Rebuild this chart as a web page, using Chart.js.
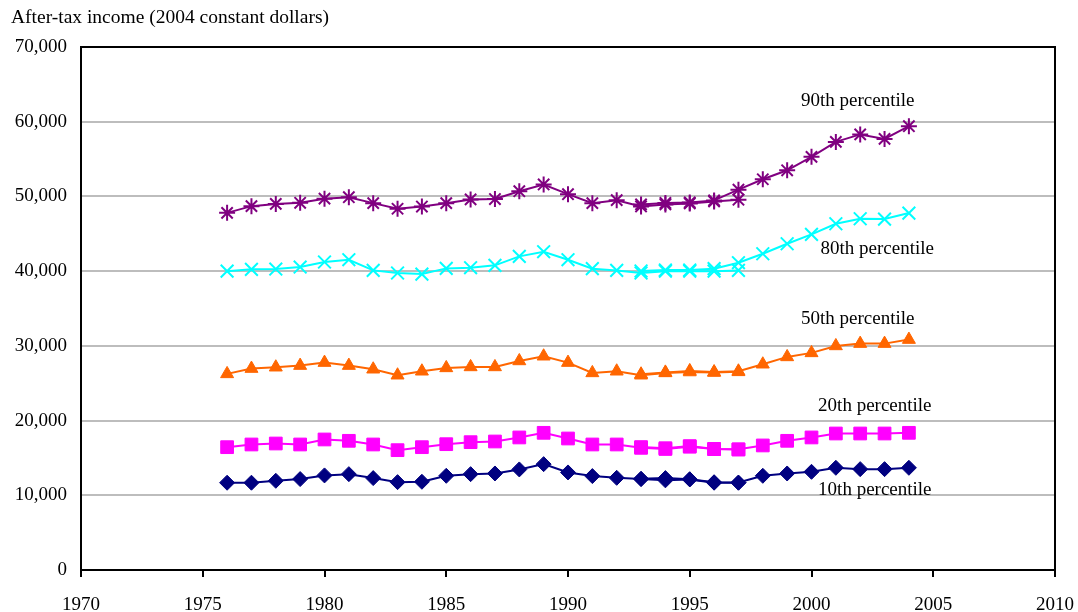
<!DOCTYPE html>
<html>
<head>
<meta charset="utf-8">
<script src="https://cdn.jsdelivr.net/npm/chart.js@4/dist/chart.umd.min.js"></script>
<style>
  html, body { margin: 0; padding: 0; background: #fff; }
  #wrap { width: 1078px; height: 612px; }
</style>
</head>
<body>
<div id="wrap"><canvas id="c" width="1078" height="612"></canvas></div>
<script>
// ---- Data ----
const titleText = "After-tax income (2004 constant dollars)";
const yearsEarly = [1976,1977,1978,1979,1980,1981,1982,1983,1984,1985,1986,1987,1988,1989,1990,1991,1992,1993,1994,1995,1996,1997];
const yearsLate  = [1993,1994,1995,1996,1997,1998,1999,2000,2001,2002,2003,2004];

const p90Early = [47800,48700,49000,49150,49700,49900,49100,48350,48650,49100,49600,49650,50700,51600,50300,49100,49500,48660,48930,49060,49330,49560];
const p90Late  = [48930,49130,49200,49470,50900,52300,53500,55300,57300,58300,57700,59400];

const p80Early = [40000,40240,40280,40550,41220,41530,40100,39750,39610,40370,40460,40780,41980,42600,41530,40330,40100,39750,40000,40000,40000,40100];
const p80Late  = [40020,40150,40150,40330,41130,42330,43670,44920,46340,47010,46970,47770];

const p50Early = [26250,26960,27140,27360,27760,27360,26870,26070,26600,27050,27180,27180,27980,28610,27760,26380,26600,26070,26380,26500,26430,26520];
const p50Late  = [26200,26450,26650,26500,26600,27540,28520,29060,29990,30300,30300,30840];

const p20Early = [16440,16800,16930,16800,17470,17290,16800,16040,16440,16840,17110,17200,17740,18360,17600,16800,16800,16350,16200,16500,16180,16130];
const p20Late  = [16450,16300,16580,16200,16150,16670,17290,17740,18270,18270,18270,18360];

const p10Early = [11680,11680,11940,12170,12660,12830,12300,11760,11810,12610,12830,12920,13460,14170,13060,12570,12340,12170,12000,12120,11680,11680];
const p10Late  = [12200,12300,12150,11750,11700,12610,12920,13140,13680,13500,13500,13680];

const seriesNames = ["90th percentile","80th percentile","50th percentile","20th percentile","10th percentile"];
const xTickValues = [1970,1975,1980,1985,1990,1995,2000,2005,2010];
const yTickValues = [0,10000,20000,30000,40000,50000,60000,70000];

// label anchor points in data units (year, dollars)
const labelYears  = [2001.9, 2002.7, 2001.9, 2002.6, 2002.6];
const labelValues = [62800, 43000, 33600, 21900, 10700];

// ---- Styles ----
const styles = [
  { color: '#800080', point: 'star',     radius: 8,   bw: 2 },
  { color: '#00FFFF', point: 'crossRot', radius: 9,   bw: 2 },
  { color: '#FF6600', point: 'triangle', radius: 7.5, bw: 1 },
  { color: '#FF00FF', point: 'rect',     radius: 9,   bw: 1 },
  { color: '#000080', point: 'rectRot',  radius: 7.5, bw: 1 }
];

const earlySets = [p90Early, p80Early, p50Early, p20Early, p10Early];
const lateSets  = [p90Late,  p80Late,  p50Late,  p20Late,  p10Late];

function pts(xs, ys) { return xs.map((x, i) => ({ x: x, y: ys[i] })); }

const datasets = [];
seriesNames.forEach((name, i) => {
  const s = styles[i];
  const base = {
    borderColor: s.color,
    backgroundColor: s.color,
    pointBackgroundColor: s.color,
    pointBorderColor: s.color,
    pointStyle: s.point,
    pointRadius: s.radius,
    pointBorderWidth: s.bw,
    borderWidth: 2,
    tension: 0,
    fill: false
  };
  datasets.push(Object.assign({ label: name, data: pts(yearsEarly, earlySets[i]) }, base));
  datasets.push(Object.assign({ label: name + ' (revised)', data: pts(yearsLate, lateSets[i]) }, base));
});

const FONT = "'Liberation Serif', 'Times New Roman', Times, serif";
Chart.defaults.font.family = FONT;
Chart.defaults.font.size = 19;
Chart.defaults.color = '#000';

const annotPlugin = {
  id: 'annot',
  afterDraw(chart) {
    const ctx = chart.ctx;
    const a = chart.chartArea;
    const xs = chart.scales.x, ys = chart.scales.y;
    ctx.save();
    // frame
    ctx.strokeStyle = '#000';
    ctx.lineWidth = 2;
    ctx.strokeRect(a.left, a.top, a.right - a.left, a.bottom - a.top);
    // title
    ctx.fillStyle = '#000';
    ctx.font = "19.5px " + FONT;
    ctx.textAlign = 'left';
    ctx.textBaseline = 'alphabetic';
    ctx.fillText(titleText, 11, 23);
    // series labels
    ctx.font = "19px " + FONT;
    ctx.textAlign = 'center';
    ctx.textBaseline = 'middle';
    seriesNames.forEach((n, i) => {
      ctx.fillText(n, xs.getPixelForValue(labelYears[i]), ys.getPixelForValue(labelValues[i]));
    });
    ctx.restore();
  }
};

new Chart(document.getElementById('c'), {
  type: 'line',
  data: { datasets: datasets },
  options: {
    responsive: false,
    animation: false,
    devicePixelRatio: 1,
    layout: { padding: { left: 0, right: 23, top: 47, bottom: 0 } },
    plugins: { legend: { display: false }, tooltip: { enabled: false } },
    scales: {
      x: {
        type: 'linear',
        min: 1970, max: 2010,
        afterBuildTicks: (sc) => { sc.ticks = xTickValues.map(v => ({ value: v })); },
        afterFit: (sc) => { sc.height = 42; sc.paddingLeft = 0; sc.paddingRight = 0; },
        grid: { drawOnChartArea: false, drawTicks: true, tickLength: 7, color: '#000', lineWidth: 2 },
        border: { display: true, color: '#000', width: 2 },
        ticks: { padding: 17, maxRotation: 0, callback: (v) => String(v) }
      },
      y: {
        type: 'linear',
        min: 0, max: 70000,
        afterBuildTicks: (sc) => { sc.ticks = yTickValues.map(v => ({ value: v })); },
        afterFit: (sc) => { sc.width = 81; sc.paddingTop = 0; sc.paddingBottom = 0; },
        grid: { drawTicks: false, color: '#bdbdbd', lineWidth: 2 },
        border: { display: true, color: '#000', width: 2 },
        ticks: { padding: 14, callback: (v) => v.toLocaleString('en-US') }
      }
    }
  },
  plugins: [annotPlugin]
});
</script>
</body>
</html>
